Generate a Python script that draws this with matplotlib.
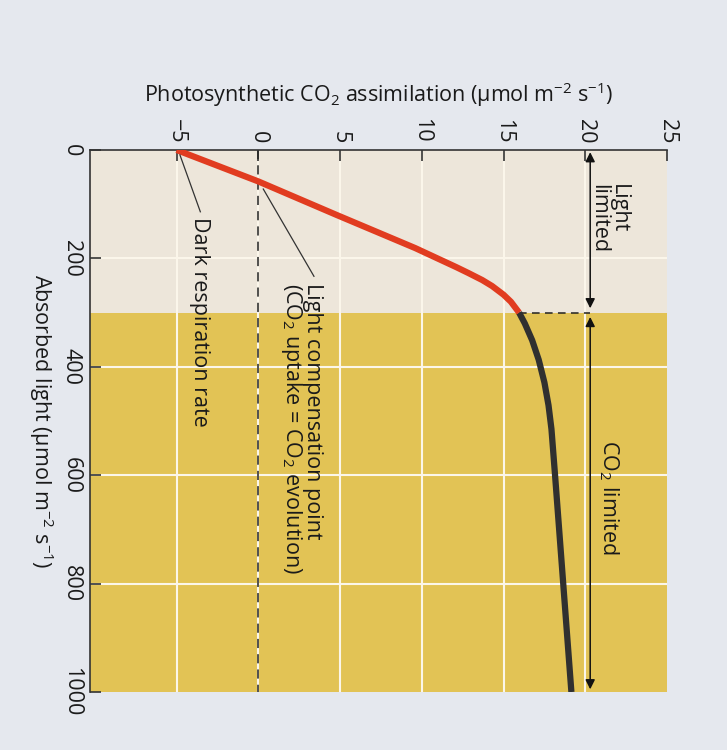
# Light response curve of photosynthesis (rotated textbook figure)
import matplotlib.pyplot as plt

plt.rcParams['font.family'] = ['Open Sans', 'DejaVu Sans']
plt.rcParams['mathtext.fontset'] = 'custom'
plt.rcParams['mathtext.rm'] = 'Open Sans'
plt.rcParams['mathtext.it'] = 'Open Sans:italic'
plt.rcParams['mathtext.bf'] = 'Open Sans:bold'

# ---------------- DATA ----------------
# absorbed light (umol m-2 s-1) and CO2 assimilation (umol m-2 s-1)
light = [0, 58, 120, 181, 202, 216, 227, 240, 251, 267, 280, 300,
         320, 351, 387, 429, 471, 515, 600, 700, 800, 1000]
co2 = [-5, 0, 4.8, 9.6, 11.1, 12.1, 12.85, 13.7, 14.3, 15.0, 15.45, 15.95,
       16.3, 16.75, 17.15, 17.5, 17.75, 17.93, 18.15, 18.4, 18.65, 19.15]

limit_switch = 300          # light level where CO2 limitation starts
light_max = 1000
co2_ticks = [-5, 0, 5, 10, 15, 20, 25]
light_ticks = [0, 200, 400, 600, 800, 1000]
co2_min = -10.3

page_col = '#E5E8EE'
beige = '#EDE6DA'
yellow = '#E2C355'
red = '#E13C20'
dark = '#303030'
fs = 15.5

# ---------------- FIGURE ----------------
fig = plt.figure(figsize=(7.27, 7.5), dpi=100, facecolor=page_col)
ax = fig.add_axes([0.1238, 0.0773, 0.7937, 0.7227])
ax.set_facecolor(page_col)

ax.set_xlim(co2_min, co2_ticks[-1])
ax.set_ylim(light_max, 0)

# background zones
ax.axhspan(0, limit_switch, color=beige, zorder=0, lw=0)
ax.axhspan(limit_switch, light_max, color=yellow, zorder=0, lw=0)

# white grid lines
for t in co2_ticks[:-1]:
    ax.axvline(t, color='#FBF6EA', lw=1.5, zorder=1)
for t in light_ticks[1:-1]:
    ax.axhline(t, color='#FBF6EA', lw=1.5, zorder=1)

# compensation line (CO2 = 0)
ax.plot([0, 0], [0, light_max], color='#222222', lw=1.1,
        dashes=(6, 4), zorder=2)

# curve: red while light limited, dark when CO2 limited
i = light.index(limit_switch)
ax.plot(co2[:i + 1], light[:i + 1], color=red, lw=4.5,
        solid_capstyle='butt', solid_joinstyle='round', zorder=4)
ax.plot(co2[i:], light[i:], color=dark, lw=4.5,
        solid_capstyle='butt', solid_joinstyle='round', zorder=3)

# boundary between the two zones
arrow_x = 20.3
ax.plot([co2[i], arrow_x], [limit_switch, limit_switch], color='#222222',
        lw=1.1, dashes=(5, 3.5), zorder=2)

arrow_kw = dict(arrowstyle='<|-|>', color='#111111', lw=1.1,
                mutation_scale=14, shrinkA=0, shrinkB=0)
ax.annotate('', xy=(arrow_x, 4), xytext=(arrow_x, limit_switch - 8),
            arrowprops=arrow_kw, zorder=5)
ax.annotate('', xy=(arrow_x, limit_switch + 8), xytext=(arrow_x, light_max - 5),
            arrowprops=arrow_kw, zorder=5)

txt_kw = dict(rotation=-90, fontsize=fs, color='#1A1A1A', zorder=6)
ax.text(21.4, 62, 'Light\nlimited', ha='center', va='top',
        multialignment='left', linespacing=0.9, **txt_kw)
ax.text(21.45, 640, 'CO$_2$ limited', ha='center', va='center', **txt_kw)

# leader lines and notes
ax.plot([-4.8, -3.55], [9, 114], color='#333333', lw=0.9, zorder=5)
ax.text(-3.6, 124, 'Dark respiration rate', ha='center', va='top', **txt_kw)

ax.plot([0.3, 3.4], [72, 233], color='#333333', lw=0.9, zorder=5)
ax.text(2.6, 246, 'Light compensation point\n(CO$_2$ uptake = CO$_2$ evolution)',
        ha='center', va='top', multialignment='left', linespacing=0.9,
        **txt_kw)

# axes styling
for s in ['right', 'bottom']:
    ax.spines[s].set_visible(False)
for s in ['top', 'left']:
    ax.spines[s].set_color('#333333')
    ax.spines[s].set_linewidth(1.2)

ax.xaxis.tick_top()
ax.xaxis.set_label_position('top')
ax.set_xticks(co2_ticks)
ax.set_xticklabels(['\u2212' + str(abs(t)) if t < 0 else str(t) for t in co2_ticks])
ax.set_yticks(light_ticks)
ax.tick_params(axis='both', direction='in', length=8, width=1.2,
               color='#333333', labelsize=fs, labelcolor='#1A1A1A')
ax.tick_params(axis='x', labelrotation=-90, pad=5)
ax.tick_params(axis='y', labelrotation=-90, pad=6)
for lab in ax.get_yticklabels():
    lab.set_verticalalignment('center')

ax.set_xlabel('Photosynthetic CO$_2$ assimilation (\u03bcmol m$^{-2}$ s$^{-1}$)',
              fontsize=fs, color='#1A1A1A', labelpad=12)
ax.set_ylabel('Absorbed light (\u03bcmol m$^{-2}$ s$^{-1}$)', fontsize=fs,
              color='#1A1A1A', rotation=-90, labelpad=14, va='center')

plt.savefig('out.png', dpi=100, facecolor=page_col)
